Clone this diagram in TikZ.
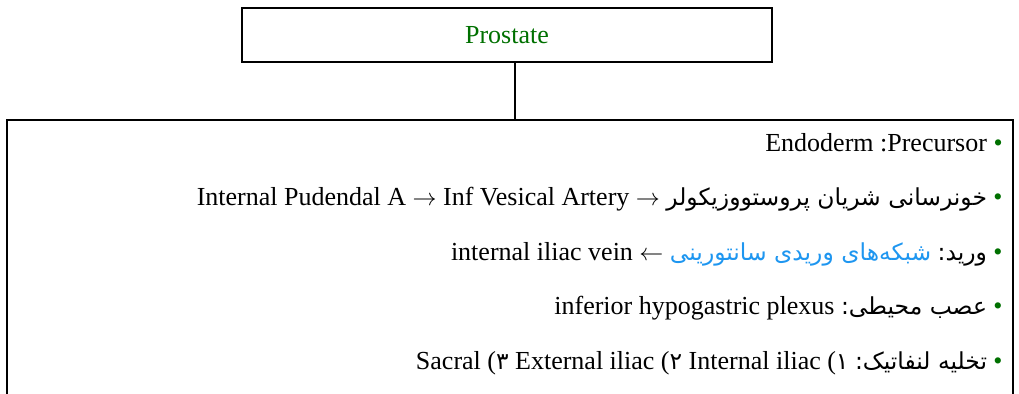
\documentclass[tikz,border=0pt]{standalone}
\usepackage{fontspec}
\setmainfont{Liberation Serif}
\newfontfamily\farsi[Script=Arabic,Scale=0.9]{DejaVu Sans}
\TeXXeTstate=1
\definecolor{leafgreen}{RGB}{0,112,0}
\definecolor{veinblue}{RGB}{30,150,240}
\newcommand{\itembullet}{~\textcolor{leafgreen}{\textbullet}}

\begin{document}
\begin{tikzpicture}[x=0.5pt, y=-0.5pt, every node/.style={font=\fontsize{13}{15}\selectfont},
	box/.style={draw, line width=1pt}, entry/.style={anchor=base east, inner sep=0pt}]
	\useasboundingbox (0,0) rectangle (1019,393);
	\node[box, minimum width=265pt, minimum height=27pt, text=leafgreen] (prostate) at (507,35) {Prostate};
	\coordinate (listtop) at (515,119.5);
	\draw[line width=1pt] (prostate.south -| listtop) -- (listtop);
	\draw[line width=1pt] (6.5,400) -- (6.5,119.5) -- (1013,119.5) -- (1013,400);
	% items, right to left
	\node[entry] (precursor) at (1003,151) {Endoderm :Precursor\itembullet};
	\node[entry] (artery) at (1003,205.5) {Internal Pudendal A $\rightarrow$ Inf Vesical Artery $\rightarrow$ {\farsi\beginR خونرسانی شریان پروستووزیکولر\endR}\itembullet};
	\node[entry] (vein) at (1003,260) {internal iliac vein $\leftarrow$ {\farsi\color{veinblue}\beginR شبکه‌های وریدی سانتورینی\endR} {\farsi\beginR ورید:\endR}\itembullet};
	\node[entry] (nerve) at (1003,314.5) {inferior hypogastric plexus {\farsi\beginR عصب محیطی:\endR}\itembullet};
	\node[entry] (lymph) at (1003,369) {Sacral ({\farsi ۳} External iliac ({\farsi ۲} Internal iliac ({\farsi ۱} {\farsi\beginR تخلیه لنفاتیک:\endR}\itembullet};
\end{tikzpicture}
\end{document}
